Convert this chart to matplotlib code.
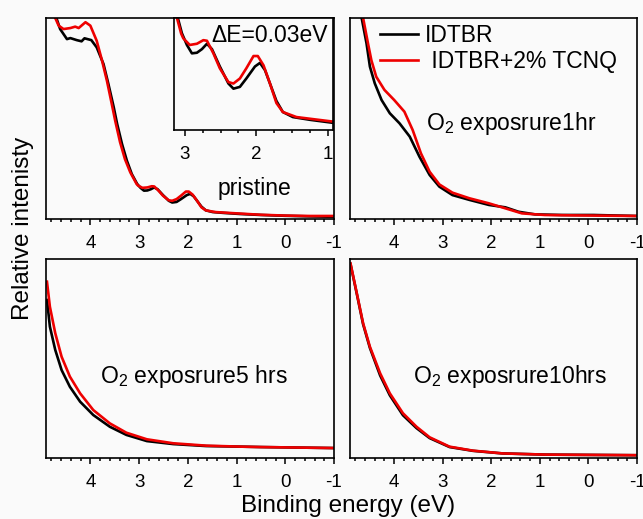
import numpy as np
import matplotlib
matplotlib.use('Agg')
import matplotlib.pyplot as plt
from matplotlib.ticker import MultipleLocator

plt.rcParams['font.family'] = ['Liberation Sans', 'DejaVu Sans']
plt.rcParams['mathtext.default'] = 'regular'
plt.rcParams['axes.unicode_minus'] = False

# pristine film
e_pri_blk = [4.91, 4.69, 4.62, 4.48, 4.41, 4.28, 4.18, 4.12, 3.98, 3.87, 3.73, 3.63, 3.52, 3.45,
             3.35, 3.25, 3.15, 3.04, 2.97, 2.90, 2.83, 2.76, 2.69, 2.62, 2.51, 2.39, 2.32, 2.23,
             2.14, 2.02, 1.95, 1.88, 1.81, 1.72, 1.63, 1.49, 1.25, 0.93, 0.5, 0.0, -0.5, -1.0]
i_pri_blk = [1.05, 0.995, 0.945, 0.895, 0.90, 0.89, 0.884, 0.899, 0.89, 0.854, 0.771, 0.672, 0.556, 0.473,
             0.373, 0.29, 0.224, 0.1746, 0.155, 0.141, 0.142, 0.148, 0.157, 0.148, 0.119, 0.0906, 0.082, 0.085,
             0.099, 0.119, 0.125, 0.113, 0.0906, 0.0615, 0.043, 0.0346, 0.030, 0.025, 0.020, 0.016, 0.013, 0.011]
e_pri_red = [4.91, 4.72, 4.65, 4.55, 4.41, 4.31, 4.24, 4.10, 4.00, 3.87, 3.76, 3.66, 3.56, 3.49,
             3.39, 3.29, 3.18, 3.05, 3.02, 2.93, 2.83, 2.74, 2.69, 2.60, 2.51, 2.39, 2.32, 2.23,
             2.14, 2.04, 1.98, 1.90, 1.81, 1.72, 1.63, 1.44, 1.2, 0.93, 0.5, 0.0, -0.5, -1.0]
i_pri_red = [1.06, 1.0, 0.962, 0.945, 0.95, 0.957, 0.95, 0.979, 0.962, 0.887, 0.788, 0.688, 0.572, 0.489,
             0.382, 0.298, 0.232, 0.174, 0.166, 0.155, 0.157, 0.163, 0.162, 0.141, 0.116, 0.093, 0.0906, 0.099,
             0.116, 0.1365, 0.1365, 0.121, 0.0906, 0.058, 0.043, 0.0346, 0.031, 0.027, 0.021, 0.017, 0.015, 0.015]

# O2 exposure 1 hr
e_1h_blk = [4.72, 4.67, 4.57, 4.50, 4.40, 4.26, 4.09, 3.89, 3.68, 3.48, 3.27, 3.07, 2.80, 2.45,
            2.05, 1.71, 1.44, 1.10, 0.55, -0.1, -1.0]
i_1h_blk = [1.2, 1.0, 0.874, 0.758, 0.675, 0.592, 0.526, 0.476, 0.41, 0.31, 0.219, 0.161, 0.119, 0.095,
            0.07, 0.058, 0.036, 0.023, 0.02, 0.02, 0.015]
e_1h_red = [4.70, 4.64, 4.54, 4.47, 4.37, 4.20, 4.00, 3.79, 3.62, 3.45, 3.27, 3.07, 2.80, 2.45,
            2.05, 1.71, 1.37, 0.90, 0.3, -1.0]
i_1h_red = [1.2, 1.0, 0.874, 0.79, 0.708, 0.642, 0.592, 0.534, 0.443, 0.327, 0.235, 0.172, 0.131, 0.103,
            0.078, 0.053, 0.028, 0.02, 0.018, 0.015]

# O2 exposure 5 hrs
e_5h = [4.89, 4.83, 4.72, 4.59, 4.42, 4.21, 3.94, 3.60, 3.26, 2.84, 2.30, 1.62, 0.9, 0.5, -1.0]
i_5h_blk = [0.794, 0.66, 0.543, 0.442, 0.358, 0.283, 0.216, 0.157, 0.116, 0.085, 0.07, 0.06, 0.057, 0.055, 0.05]
i_5h_red = [0.886, 0.76, 0.627, 0.509, 0.409, 0.325, 0.241, 0.174, 0.127, 0.094, 0.074, 0.062, 0.057, 0.055, 0.05]

# O2 exposure 10 hrs
e_10h = [4.90, 4.77, 4.64, 4.50, 4.29, 4.09, 3.82, 3.54, 3.27, 2.86, 2.38, 1.77, 0.88, -1.0]
i_10h_blk = [0.975, 0.825, 0.672, 0.553, 0.415, 0.315, 0.215, 0.15, 0.1, 0.055, 0.036, 0.023, 0.017, 0.014]
i_10h_red = [0.978, 0.828, 0.677, 0.559, 0.426, 0.325, 0.225, 0.157, 0.104, 0.057, 0.037, 0.023, 0.017, 0.014]

labels = ['IDTBR', ' IDTBR+2% TCNQ']
blk = 'black'
red = '#ee0000'
lw = 1.9
bg = '#fafafa'
fs = 16.5

fig = plt.figure(figsize=(6.43, 5.19), dpi=100, facecolor=bg)
W, H = 643, 519


def make_ax(l, t, r, b):
    return fig.add_axes([l / W, 1 - b / H, (r - l) / W, (b - t) / H], facecolor=bg)


def style(ax, major, minor, size=13.5):
    ax.xaxis.set_major_locator(MultipleLocator(major))
    ax.xaxis.set_minor_locator(MultipleLocator(minor))
    ax.tick_params(axis='x', which='major', direction='out', length=4, width=1.1,
                   labelsize=size, pad=7.5)
    ax.tick_params(axis='x', which='minor', direction='out', length=2.3, width=1.1)
    ax.set_yticks([])
    for s in ax.spines.values():
        s.set_linewidth(1.2)


ax_tl = make_ax(46, 18, 334, 219)
ax_tr = make_ax(350, 18, 637, 219)
ax_bl = make_ax(46, 259, 334, 458)
ax_br = make_ax(350, 259, 637, 458)

panels = [
    (ax_tl, e_pri_blk, i_pri_blk, e_pri_red, i_pri_red),
    (ax_tr, e_1h_blk, i_1h_blk, e_1h_red, i_1h_red),
    (ax_bl, e_5h, i_5h_blk, e_5h, i_5h_red),
    (ax_br, e_10h, i_10h_blk, e_10h, i_10h_red),
]
for ax, eb, ib, er, ir in panels:
    ax.plot(eb, ib, color=blk, lw=lw, label=labels[0])
    ax.plot(er, ir, color=red, lw=lw, label=labels[1])
    ax.set_xlim(4.91, -1)
    ax.set_ylim(0, 1)
    style(ax, 1, 0.2)

ax_tl.text(0.595, 0.119, 'pristine', transform=ax_tl.transAxes, fontsize=fs, va='baseline')
ax_tr.text(0.265, 0.443, 'O$_2$ exposrure1hr', transform=ax_tr.transAxes, fontsize=fs, va='baseline')
ax_bl.text(0.1875, 0.375, 'O$_2$ exposrure5 hrs', transform=ax_bl.transAxes, fontsize=fs, va='baseline')
ax_br.text(0.2195, 0.375, 'O$_2$ exposrure10hrs', transform=ax_br.transAxes, fontsize=fs, va='baseline')

ax_tr.legend(loc='upper left', bbox_to_anchor=(0.1045, 0.97), frameon=False, fontsize=fs,
             handlelength=1.65, handletextpad=0.3, borderpad=0, borderaxespad=0, labelspacing=0.15)

# inset with zoomed pristine spectra
ax_in = make_ax(174, 18, 333, 130)
ax_in.plot(e_pri_blk, i_pri_blk, color=blk, lw=lw)
ax_in.plot(e_pri_red, i_pri_red, color=red, lw=lw)
ax_in.set_xlim(3.15, 0.93)
ax_in.set_ylim(0.013, 0.2)
style(ax_in, 1, 0.25)
ax_in.text(0.235, 0.783, '\u0394E=0.03eV', transform=ax_in.transAxes, fontsize=fs, va='baseline')

fig.text(348.5 / W, 1 - 511.7 / H, 'Binding energy (eV)', ha='center', va='baseline', fontsize=17.5)
fig.text(23 / W, 1 - 228 / H, 'Relative intenisty', ha='center', va='center', rotation=90, fontsize=17.5)

fig.savefig('out.png', dpi=100, facecolor=bg)
